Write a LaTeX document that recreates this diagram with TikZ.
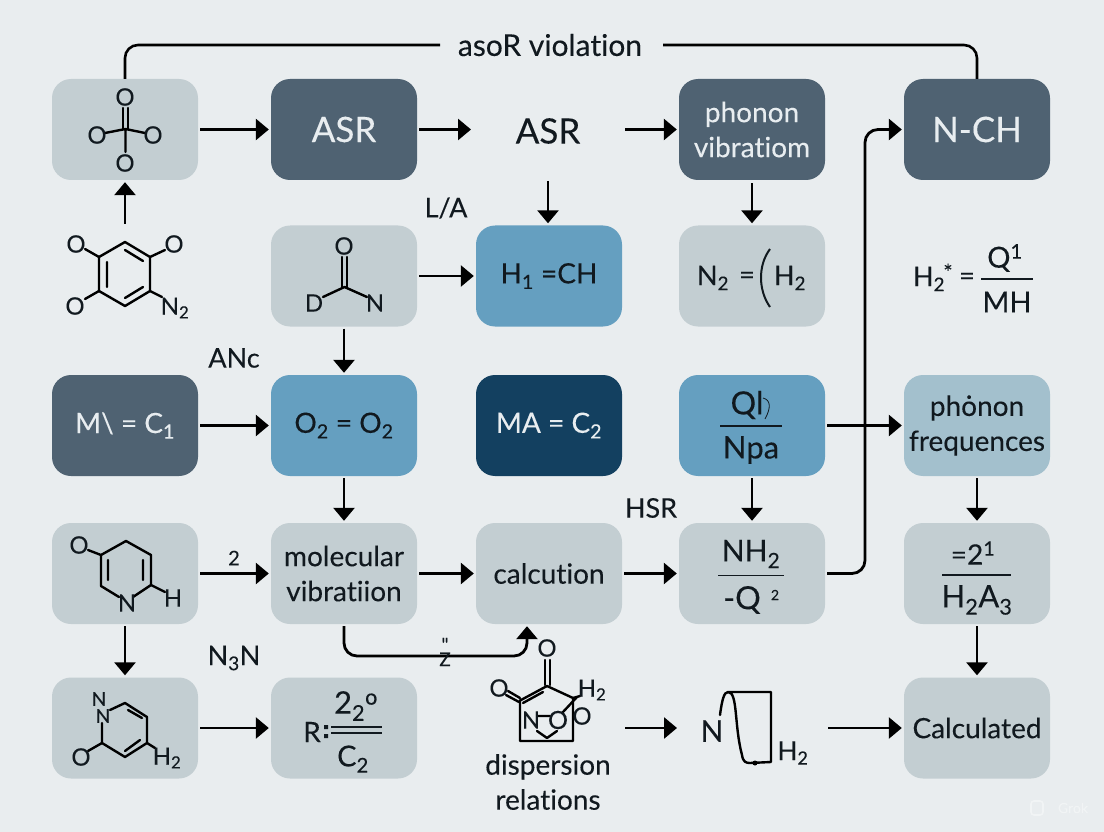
\documentclass[tikz,border=0pt]{standalone}
\usepackage{fontspec}
\setmainfont{Lato}[FakeBold=0.15,Ligatures=NoCommon]
\usetikzlibrary{positioning,arrows.meta}
\definecolor{pagebg}{HTML}{E9EDEF}
\definecolor{greyfill}{HTML}{C3CED2}
\definecolor{slatefill}{HTML}{4F6272}
\definecolor{bluefill}{HTML}{659FC0}
\definecolor{navyfill}{HTML}{134060}
\definecolor{palefill}{HTML}{A3C0CD}
\definecolor{inkcol}{HTML}{11191F}
\definecolor{paletext}{HTML}{E8EDF0}
\definecolor{markcol}{HTML}{F1F4F5}
\tikzset{
  card/.style={rounded corners=19pt,minimum width=146pt,minimum height=101pt,
    inner sep=0pt,align=center,text=inkcol,font=\fontsize{28}{35}\selectfont},
  greycard/.style={card,fill=greyfill},
  slatecard/.style={card,fill=slatefill,text=paletext},
  bluecard/.style={card,fill=bluefill},
  navycard/.style={card,fill=navyfill,text=paletext},
  palecard/.style={card,fill=palefill},
  lbl/.style={inner sep=0pt,text=inkcol,font=\fontsize{27}{30}\selectfont},
  atom/.style={inner sep=0pt,text=inkcol,font=\fontsize{24}{26}\selectfont},
  arr/.style={draw=black,line width=2.8pt,-{Triangle[length=13pt,width=21pt]},
    shorten >=2pt,shorten <=2pt},
  bond/.style={draw=black,line width=2.4pt,line cap=round,line join=round},
  plainline/.style={draw=black,line width=2.6pt,rounded corners=13pt},
}
\begin{document}
\begin{tikzpicture}[x=1pt,y=-1pt]
\fill[pagebg] (0,0) rectangle (1104,832);
\useasboundingbox (0,0) rectangle (1104,832);
% first row
\node[greycard] (oxo) at (125,129.5) {};
\node[slatecard,font=\fontsize{35}{38}\selectfont] (asrbox) at (344,129.5) {ASR};
\node[lbl,font=\fontsize{35}{38}\selectfont] (asrtext) at (548,131) {ASR};
\node[slatecard] (vib) at (752,129.5) {phonon\\vibratiom};
\node[slatecard,font=\fontsize{35}{38}\selectfont] (nch) at (977,129.5) {N-CH};
% second row
\node[greycard] (dn) at (344,276) {};
\node[bluecard] (hch) at (549,276) {H\textsubscript{1} =CH};
\node[greycard] (nn) at (752,276) {};
% third row
\node[slatecard] (mc) at (125,425.5) {M\textbackslash{} = C\textsubscript{1}};
\node[bluecard] (oo) at (344,425.5) {O\textsubscript{2} = O\textsubscript{2}};
\node[navycard] (ma) at (549,425.5) {MA = C\textsubscript{2}};
\node[bluecard] (qn) at (752,425.5) {};
\node[palecard] (freq) at (977,425.5) {ph\.{o}non\\frequences};
% fourth row
\node[greycard] (oh) at (125,573.5) {};
\node[greycard] (mol) at (344,573.5) {molecular\\vibratiion};
\node[greycard] (calc) at (549,573.5) {calcution};
\node[greycard] (nq) at (752,573.5) {};
\node[greycard] (hta) at (977,573.5) {};
% fifth row
\node[greycard] (nno) at (125,728) {};
\node[greycard] (rc) at (344,728) {};
\node[greycard] (fin) at (977,728) {Calculated};
% free ends of the connectors
\coordinate (ringtop) at (125,226);
\coordinate (asrin) at (473,129.5);
\coordinate (asrout) at (623,129.5);
\coordinate (asrdown) at (548,179);
\coordinate (ringout) at (623,728);
\coordinate (squarein) at (679,728);
\coordinate (squareout) at (826,728);
\coordinate (toplinel) at (440,45);
\coordinate (topliner) at (663,45);
% connectors
\draw[arr] (oxo.east) -- (asrbox.west);
\draw[arr] (asrbox.east) -- (asrin);
\draw[arr] (asrout) -- (vib.west);
\draw[arr] (asrdown) -- (hch.north -| asrdown);
\draw[arr] (vib) ++(0,52) -- (nn.north);
\draw[arr] (ringtop) -- (oxo.south);
\draw[arr] (dn.east) -- (hch.west);
\draw[arr] (dn.south) -- (oo.north);
\draw[arr] (mc.east) -- (oo.west);
\draw[arr] (oo.south) -- (mol.north);
\draw[arr] (qn.south) -- (nq.north);
\draw[arr] (freq.south) -- (hta.north);
\draw[arr] (hta.south) -- (fin.north);
\draw[arr] (oh.east) -- (mol.west);
\draw[arr] (mol.east) -- (calc.west);
\draw[arr] (calc.east) -- (nq.west);
\draw[arr] (oh.south) -- (nno.north);
\draw[arr] (nno.east) -- (rc.west);
\draw[arr] (ringout) -- (squarein);
\draw[arr] (squareout) -- (fin.west);
\draw[arr] (qn.east) -- (freq.west);
\draw[arr,rounded corners=13pt] (nq.east) -- (865,573.5) -- (865,129.5) -- (nch.west);
\draw[arr,rounded corners=13pt] (mol.south) -- (344,656) -- (527,656) -- (calc.south -| 527,0);
\draw[plainline] (oxo.north) -- (125,45) -- (toplinel);
\draw[plainline] (topliner) -- (977,45) -- (nch.north);
% texts beside the lines
\node[lbl,font=\fontsize{30}{32}\selectfont] (viol) at (550,45) {asoR violation};
\node[lbl] (la) at (446,208) {L/A};
\node[lbl] (anc) at (234,358) {ANc};
\node[lbl] (nthree) at (234,658) {N\textsubscript{3}N};
\node[lbl] (hsr) at (651,508) {HSR};
\node[lbl,font=\fontsize{20}{22}\selectfont] (two) at (234,558) {2};
\node[lbl,font=\fontsize{19}{13}\selectfont,align=center] (squig) at (445,652) {\textquotedbl\\Z};
% oxo cross
\draw[bond] (123,108) -- (123,129) (128,108) -- (128,129);
\draw[bond] (105,133) -- (125.5,129) -- (145,133) (125.5,129) -- (125.5,152);
\foreach \nm/\xx/\yy in {oa/125/97,ob/97/135,oc/153/135,od/125/163}
  \node[atom] (\nm) at (\xx,\yy) {O};
% benzene ring
\draw[bond] (125,242) -- (150,257) -- (150,291) -- (125,306) -- (99,291) -- (99,257) -- cycle;
\draw[bond] (107,262) -- (107,287) (125,250) -- (143,261) (125,298) -- (143,287);
\draw[bond] (85,249) -- (99,257) (165,250) -- (150,257) (85,299) -- (99,291) (162,297) -- (150,291);
\node[atom] (re) at (76,244) {O};
\node[atom] (rf) at (174,244) {O};
\node[atom] (rg) at (75,306) {O};
\node[atom] (rh) at (175,308) {N\textsubscript{2}};
% carbonyl
\draw[bond] (342,257) -- (342,287) (347,257) -- (347,287);
\draw[bond] (323,297) -- (344.5,287) -- (367,297);
\node[atom] (ca) at (344,246) {O};
\node[atom] (cb) at (314,303) {D};
\node[atom] (cc) at (375,303) {N};
% ring in the fourth row
\draw[bond] (88,550) -- (101,555) -- (126,541) -- (151,555) -- (151,585) -- (133,597);
\draw[bond] (101,555) -- (101,586) -- (119,597);
\draw[bond] (108,560) -- (108,580) (143,560) -- (143,580) (151,585) -- (165,592);
\node[atom] (da) at (79,545) {O};
\node[atom] (db) at (127,603) {N};
\node[atom] (dc) at (173,598) {H};
% ring in the fifth row
\draw[bond] (110,710) -- (125,703) -- (147,717) -- (147,743) -- (125,757) -- (102,743) -- (102,723);
\draw[bond] (128,710) -- (142,718) (125,751) -- (140,740) (88,751) -- (102,743) (147,743) -- (155,748);
\node[atom,font=\fontsize{19}{20}\selectfont] (ea) at (99,699) {N};
\node[atom,font=\fontsize{19}{20}\selectfont] (eb) at (103,716) {N};
\node[atom] (ec) at (81,757) {O};
\node[atom] (ed) at (167,758) {H\textsubscript{2}};
% bicycle above the caption
\draw[bond] (545,660) -- (545,685) (550,660) -- (550,685);
\draw[bond] (521,700) -- (547,686) -- (573,698) -- (573,741) -- (520,741) -- (520,700);
\draw[bond] (523,703) -- (543,692) (508,691) -- (520,698) (506,695) -- (519,702);
\draw[bond] (573,698) -- (580,696) (538,716) -- (550,716) (563,712) -- (577,697);
\draw[bond] (537,731) -- (547,738) -- (557,731);
\node[atom] (fa) at (547,648) {O};
\node[atom] (fb) at (499,688) {O};
\node[atom] (fc) at (592,690) {H\textsubscript{2}};
\node[atom] (fd) at (582,716) {O};
\node[atom] (fe) at (531,720) {N};
\node[atom,font=\fontsize{25}{26}\selectfont] (ff) at (558,720) {O};
\node[lbl,font=\fontsize{28}{35}\selectfont,align=center] (disp) at (548,782) {dispersion\\relations};
% open square
\draw[bond] (720,715) .. controls (722,700) and (724,692) .. (728,692) .. controls (738,692) and (734,725) .. (742,755)
  .. controls (743,762) and (746,763) .. (750,763) -- (771,762) -- (771,692) -- (728,692);
\fill (755,763) circle (2.5pt);
\node[atom,font=\fontsize{30}{32}\selectfont] (sa) at (712,731) {N};
\node[atom,font=\fontsize{26}{28}\selectfont] (sb) at (793,753) {H\textsubscript{2}};
% N2 = (H2
\node[lbl] (nna) at (713,278) {N\textsubscript{2}};
\node[lbl] (nnb) at (747,278) {=};
\node[lbl] (nnc) at (790,278) {H\textsubscript{2}};
\draw[inkcol,line width=2pt] (770,249) .. controls (758,265) and (758,290) .. (770,307);
% H2 star fraction
\node[lbl] (fra) at (929,279) {H\textsubscript{2}};
\node[lbl,font=\fontsize{22}{24}\selectfont] (frb) at (948,272) {*};
\node[lbl] (frc) at (967,279) {=};
\node[lbl,font=\fontsize{29}{30}\selectfont] (frd) at (1005,258) {Q\textsuperscript{1}};
\node[lbl,font=\fontsize{29}{30}\selectfont] (fre) at (1007,302) {MH};
\draw[inkcol,line width=1.8pt] (981,279) -- (1033,279);
% Ql over Npa
\node[lbl,font=\fontsize{32}{34}\selectfont] (qa) at (747,405) {Ql};
\draw[inkcol,line width=.8pt] (763,398) .. controls (771,400) and (771,408) .. (765,419);
\node[lbl,font=\fontsize{31}{33}\selectfont] (qb) at (751,450) {Npa};
\draw[inkcol,line width=2pt] (720,426) -- (782,426);
% NH2 over -Q
\node[lbl,font=\fontsize{30}{32}\selectfont] (na) at (751,554) {NH\textsubscript{2}};
\draw[inkcol,line width=1.8pt] (718,575.5) -- (784,575.5);
\node[lbl,font=\fontsize{32}{34}\selectfont] (nb) at (742,600) {-Q};
\node[lbl,font=\fontsize{14}{16}\selectfont] (nc) at (775,595) {2};
% =2 over H2A3
\node[lbl,font=\fontsize{28}{30}\selectfont] (ha) at (973,553) {=2\textsuperscript{1}};
\draw[inkcol,line width=1.8pt] (942,575) -- (1011,575);
\node[lbl,font=\fontsize{31}{33}\selectfont] (hb) at (977,600) {H\textsubscript{2}A\textsubscript{3}};
% R over C2
\node[lbl,font=\fontsize{28}{30}\selectfont] (ra) at (312,732) {R};
\fill[inkcol] (324,725) rectangle (328,729) (324,734) rectangle (328,738);
\draw[inkcol,line width=1.8pt] (331,727) -- (382,727);
\draw[inkcol,line width=2.4pt] (331,733) -- (382,733);
\node[lbl,font=\fontsize{31}{33}\selectfont] (rb) at (356,706) {2\textsubscript{2}\textsuperscript{o}};
\node[lbl,font=\fontsize{29}{30}\selectfont] (rd) at (353,759) {C\textsubscript{2}};
% faint mark in the corner
\draw[markcol,line width=1.6pt,rounded corners=3pt] (1031,801) rectangle (1043,815);
\node[lbl,font=\fontsize{14}{16}\selectfont,text=markcol] (mark) at (1073,808) {Grok};
\end{tikzpicture}
\end{document}
